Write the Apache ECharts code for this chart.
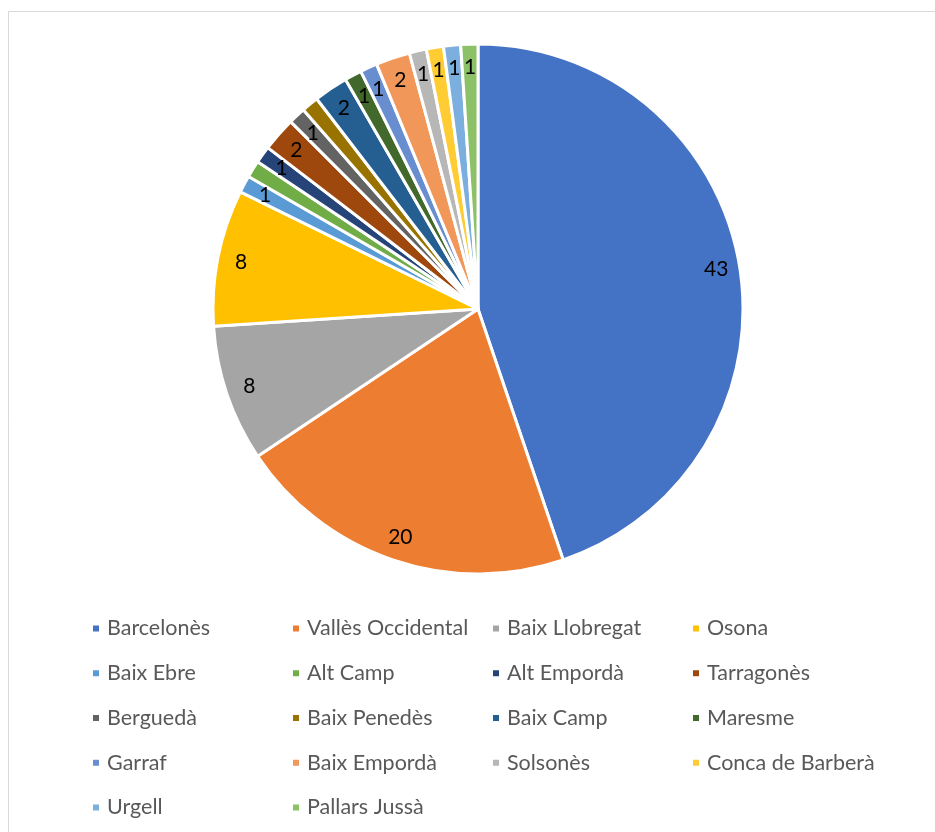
<!DOCTYPE html>
<html>
<head>
<meta charset="utf-8">
<script src="https://cdn.jsdelivr.net/npm/echarts@6/dist/echarts.min.js"></script>
<style>
  html, body { margin: 0; padding: 0; background: #fff; }
  #chart { width: 935px; height: 832px; }
</style>
</head>
<body>
<div id="chart"></div>
<script>
// Comarques and their counts
const comarques = [
  'Barcelonès', 'Vallès Occidental', 'Baix Llobregat', 'Osona',
  'Baix Ebre', 'Alt Camp', 'Alt Empordà', 'Tarragonès',
  'Berguedà', 'Baix Penedès', 'Baix Camp', 'Maresme',
  'Garraf', 'Baix Empordà', 'Solsonès', 'Conca de Barberà',
  'Urgell', 'Pallars Jussà'
];
const counts = [43, 20, 8, 8, 1, 1, 1, 2, 1, 1, 2, 1, 1, 2, 1, 1, 1, 1];
const palette = [
  '#4472C4', '#ED7D31', '#A5A5A5', '#FFC000',
  '#5B9BD5', '#70AD47', '#264478', '#9E480E',
  '#636363', '#997300', '#255E91', '#43682B',
  '#698ED0', '#F1975A', '#B7B7B7', '#FFCD33',
  '#7CAFDD', '#8CC168'
];

const data = comarques.map((name, i) => ({ name: name, value: counts[i] }));
const center = [478, 309];
const R = 265;

const chart = echarts.init(document.getElementById('chart'));
chart.setOption({
  animation: false,
  color: palette,
  graphic: [{
    type: 'rect',
    shape: { x: 8.5, y: 11.5, width: 1000, height: 1000 },
    style: { fill: 'none', stroke: '#D9D9D9', lineWidth: 1 },
    silent: true,
    z: -1
  }],
  legend: {
    data: comarques,
    left: 91,
    top: 616,
    width: 806,
    orient: 'horizontal',
    icon: 'rect',
    itemWidth: 8,
    itemHeight: 8,
    itemGap: 20,
    padding: 0,
    textStyle: {
      fontFamily: 'Lato',
      fontSize: 21.5,
      color: '#595959',
      width: 164,
      lineHeight: 24.75,
      padding: [0, 0, 0, 2]
    }
  },
  series: [
    {
      type: 'pie',
      center: center,
      radius: [0, R],
      startAngle: 90,
      clockwise: true,
      data: data,
      itemStyle: { borderColor: '#fff', borderWidth: 3 },
      label: { show: false },
      labelLine: { show: false },
      emphasis: { disabled: true }
    },
    {
      // transparent ring that places value labels near the outer edge
      type: 'pie',
      center: center,
      radius: [R * 0.81, R * 0.99],
      startAngle: 90,
      clockwise: true,
      data: data,
      silent: true,
      itemStyle: { color: 'rgba(0,0,0,0)', borderWidth: 0 },
      label: {
        show: true,
        position: 'inside',
        formatter: '{c}',
        fontFamily: 'Lato',
        fontSize: 21,
        color: '#000'
      },
      labelLine: { show: false },
      emphasis: { disabled: true }
    }
  ]
});
</script>
</body>
</html>
